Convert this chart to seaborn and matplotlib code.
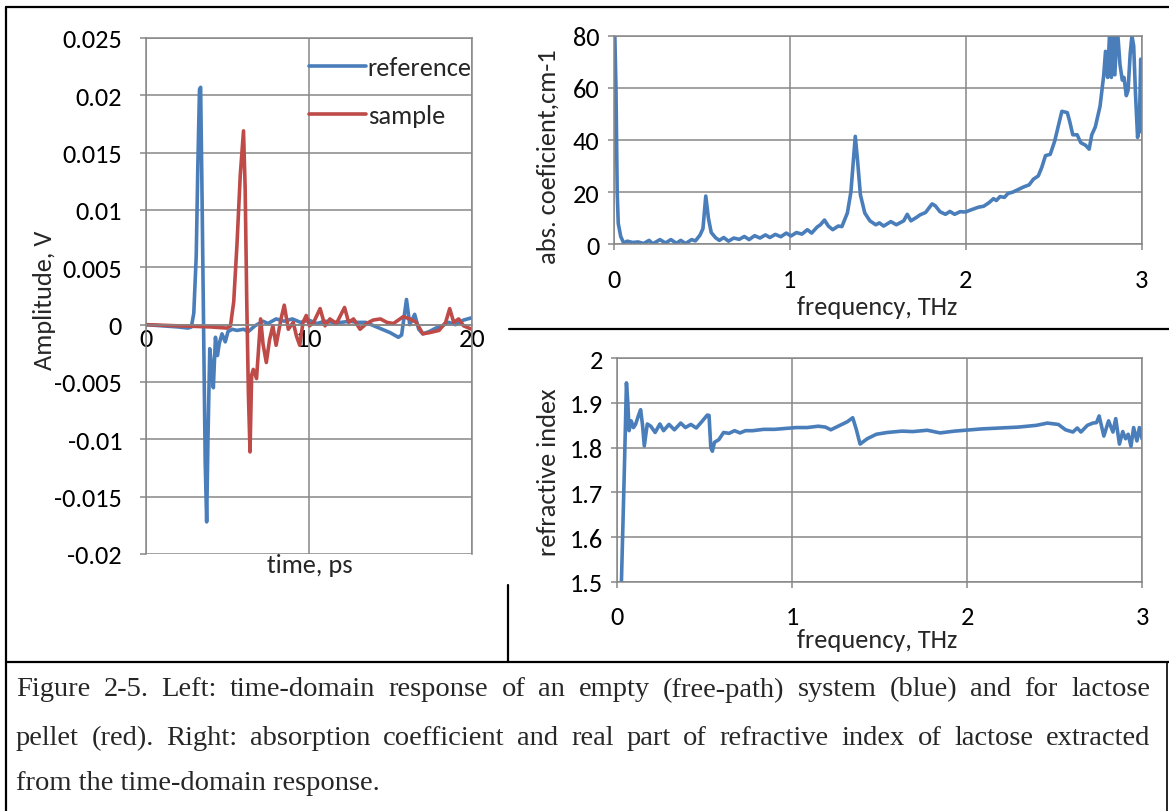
import matplotlib
matplotlib.use("Agg")
import matplotlib.pyplot as plt
import seaborn as sns
import pandas as pd
from matplotlib import font_manager
from matplotlib.lines import Line2D

# ---------------- data ----------------
# Left panel: time-domain response (time in ps, amplitude in V)
ref_time = [0, 1, 2, 2.6, 2.8, 2.95, 3.1, 3.2, 3.3, 3.37, 3.45, 3.55, 3.65, 3.74, 3.82,
            3.93, 4.03, 4.15, 4.28, 4.40, 4.52, 4.68, 4.88, 5.05, 5.3, 5.6, 6.0, 6.3, 6.7,
            7.2, 7.5, 8.0, 8.5, 9.0, 9.5, 10.0, 10.5, 11.0, 11.5, 12.0, 12.5, 13.0, 13.5,
            14.0, 14.5, 15.0, 15.5, 15.7, 16.0, 16.2, 16.5, 16.75, 17.0, 17.4, 17.8, 18.2,
            18.6, 19.0, 19.5, 20.0]
ref_amp = [0.0, -0.0001, -0.0002, -0.0003, -0.0002, 0.001, 0.006, 0.014, 0.0205, 0.0207,
           0.012, 0.0, -0.012, -0.0172, -0.010, -0.0021, -0.0035, -0.0055, -0.0011, -0.0027,
           -0.0016, -0.0008, -0.0015, -0.0006, -0.0004, -0.0005, -0.0004, -0.0006, -0.0001,
           0.0003, 0.0001, 0.0005, 0.0003, 0.0005, 0.0002, 0.0004, 0.0001, 0.0003, 0.0002,
           0.0002, 0.0003, 0.0002, 0.0002, -0.0001, -0.0004, -0.0007, -0.0011, -0.0009,
           0.0022, 0.0000, 0.0009, -0.0004, -0.0008, -0.0006, -0.0003, -0.0001, 0.0002,
           0.0, 0.0004, 0.0006]

smp_time = [0, 2, 4, 5.0, 5.2, 5.4, 5.6, 5.8, 6.0, 6.1, 6.2, 6.3, 6.4, 6.5, 6.6, 6.8, 7.05,
            7.2, 7.4, 7.6, 7.8, 8.0, 8.3, 8.5, 8.75, 9.05, 9.25, 9.45, 9.65, 9.85, 10.05,
            10.3, 10.7, 11.0, 11.3, 11.7, 12.2, 12.45, 12.75, 13.15, 13.55, 13.95, 14.4,
            14.8, 15.2, 15.8, 16.2, 16.6, 17.0, 17.4, 18.0, 18.4, 18.65, 18.9, 19.2, 19.5, 20.0]
smp_amp = [0.0, -0.0001, -0.0002, -0.0003, -0.0001, 0.002, 0.007, 0.013, 0.0169, 0.012,
           0.002, -0.006, -0.0111, -0.0044, -0.0039, -0.0047, 0.0005, -0.0017, -0.0033,
           -0.0013, -0.0001, -0.0018, 0.0005, 0.0017, -0.0004, 0.0002, -0.0010, -0.0018,
           0.0002, 0.0008, -0.0001, 0.0002, 0.0014, -0.0001, 0.0005, 0.0001, 0.0015, 0.0002,
           0.0005, -0.0004, 0.0001, 0.0004, 0.0005, 0.0002, 0.0001, 0.0007, 0.0005, 0.0002,
           -0.0008, -0.0007, -0.0005, 0.0002, 0.0014, 0.0002, 0.0005, -0.0001, -0.0004]

# Top right: absorption coefficient (THz, cm-1)
abs_freq = [0.006, 0.014, 0.021, 0.027, 0.041, 0.058, 0.078, 0.109, 0.14, 0.171, 0.202, 0.223,
            0.264, 0.295, 0.326, 0.357, 0.382, 0.409, 0.444, 0.465, 0.491, 0.508, 0.524, 0.539,
            0.555, 0.58, 0.601, 0.626, 0.653, 0.683, 0.714, 0.743, 0.77, 0.801, 0.832, 0.863,
            0.888, 0.919, 0.95, 0.981, 1.008, 1.039, 1.07, 1.101, 1.125, 1.156, 1.175, 1.198,
            1.22, 1.245, 1.276, 1.297, 1.328, 1.348, 1.363, 1.373, 1.386, 1.402, 1.427, 1.456,
            1.489, 1.51, 1.534, 1.575, 1.606, 1.648, 1.668, 1.689, 1.72, 1.741, 1.772, 1.792,
            1.809, 1.827, 1.854, 1.885, 1.91, 1.937, 1.968, 1.999, 2.03, 2.071, 2.102, 2.133,
            2.158, 2.174, 2.195, 2.22, 2.24, 2.267, 2.298, 2.329, 2.36, 2.385, 2.412, 2.432,
            2.453, 2.48, 2.505, 2.53, 2.546, 2.577, 2.591, 2.608, 2.633, 2.653, 2.68, 2.701,
            2.716, 2.736, 2.763, 2.784, 2.794, 2.806, 2.819, 2.827, 2.839, 2.847, 2.86, 2.876,
            2.889, 2.899, 2.912, 2.922, 2.934, 2.944, 2.954, 2.964, 2.976, 2.986, 2.994, 3.0]
abs_coef = [85, 60, 20, 8, 3, 0.5, 1.2, 0.7, 0.9, 0.3, 1.5, 0.2, 1.8, 0.5, 1.8, 0.4, 1.5, 0.3,
            1.8, 1.3, 3.5, 6, 18.5, 10, 4.5, 2.5, 1.5, 2.6, 1.2, 2.4, 1.9, 3.0, 1.8, 3.3, 2.4,
            3.6, 2.6, 3.8, 2.9, 4.3, 3.2, 4.5, 3.9, 5.6, 4.3, 6.6, 7.5, 9.3, 7.0, 5.6, 7.0, 6.8,
            12, 20, 33, 41.4, 32, 19, 12, 9, 7.5, 8.2, 7, 8.7, 7.5, 9, 11.5, 9, 10.3, 11.3, 12.2,
            14, 15.5, 14.8, 12.5, 11.5, 12.6, 11.5, 12.5, 12.4, 13.2, 14.2, 14.6, 16, 17.5, 16.8,
            18.3, 18, 19.5, 20, 21, 22, 22.8, 25, 26.2, 29.5, 34, 34.5, 39.5, 46.5, 51, 50.5, 47,
            42, 42, 39, 38, 36.5, 42, 45, 53, 65, 74, 64, 84, 64, 84, 65, 84, 69, 63, 64, 57, 59,
            73, 80, 76, 58, 41, 45, 71, 43]

# Bottom right: refractive index (THz, n)
ri_freq = [0.024, 0.042, 0.054, 0.062, 0.069, 0.081, 0.094, 0.106, 0.121, 0.135, 0.146, 0.156,
           0.173, 0.193, 0.218, 0.245, 0.266, 0.297, 0.328, 0.364, 0.391, 0.422, 0.453, 0.484,
           0.516, 0.526, 0.536, 0.545, 0.557, 0.582, 0.609, 0.64, 0.672, 0.703, 0.734, 0.775,
           0.838, 0.9, 0.963, 1.025, 1.087, 1.15, 1.191, 1.222, 1.274, 1.316, 1.347, 1.368,
           1.389, 1.43, 1.482, 1.545, 1.628, 1.69, 1.773, 1.846, 1.929, 2.085, 2.189, 2.293,
           2.397, 2.459, 2.522, 2.563, 2.605, 2.63, 2.651, 2.688, 2.719, 2.74, 2.755, 2.782,
           2.809, 2.834, 2.85, 2.871, 2.89, 2.906, 2.921, 2.937, 2.952, 2.971, 2.985, 3.0]
ri_n = [1.48, 1.75, 1.945, 1.90, 1.838, 1.86, 1.845, 1.852, 1.87, 1.885, 1.85, 1.804, 1.853,
        1.848, 1.834, 1.853, 1.838, 1.852, 1.84, 1.855, 1.845, 1.852, 1.844, 1.858, 1.873,
        1.872, 1.80, 1.792, 1.812, 1.818, 1.834, 1.832, 1.838, 1.833, 1.838, 1.838, 1.841,
        1.841, 1.843, 1.845, 1.845, 1.848, 1.846, 1.84, 1.85, 1.858, 1.867, 1.84, 1.808, 1.82,
        1.83, 1.834, 1.837, 1.836, 1.839, 1.833, 1.837, 1.842, 1.844, 1.846, 1.85, 1.855,
        1.852, 1.84, 1.835, 1.844, 1.835, 1.85, 1.855, 1.856, 1.871, 1.826, 1.86, 1.835, 1.865,
        1.808, 1.836, 1.82, 1.83, 1.803, 1.845, 1.815, 1.845, 1.82]

time_ticks = [0, 10, 20]
amp_ticks = [-0.02, -0.015, -0.01, -0.005, 0, 0.005, 0.01, 0.015, 0.02, 0.025]
amp_labels = ["-0.02", "-0.015", "-0.01", "-0.005", "0", "0.005", "0.01", "0.015", "0.02", "0.025"]
freq_ticks = [0, 1, 2, 3]
abs_ticks = [0, 20, 40, 60, 80]
ri_ticks = [1.5, 1.6, 1.7, 1.8, 1.9, 2.0]
ri_labels = ["1.5", "1.6", "1.7", "1.8", "1.9", "2"]

caption_lines = [
    "Figure 2-5. Left: time-domain response of an empty (free-path) system (blue) and for lactose",
    "pellet (red). Right: absorption coefficient and real part of refractive index of lactose extracted",
    "from the time-domain response.",
]

# ---------------- style ----------------
sns.set_theme(style="white")
names = {f.name for f in font_manager.fontManager.ttflist}
chart_font = "Carlito" if "Carlito" in names else "Lato"
plt.rcParams['font.family'] = [chart_font, 'DejaVu Sans']

BLUE = "#4A7EBB"
RED = "#BE4B48"
GRID = "#878787"
FS = 19
LW = 2.6

W, H = 1169, 812
fig = plt.figure(figsize=(W / 100, H / 100), dpi=100)
fig.patch.set_facecolor("white")


def rect(x0, y0, x1, y1):
    return [x0 / W, 1 - y1 / H, (x1 - x0) / W, (y1 - y0) / H]


def fx(x):
    return x / W


def fy(y):
    return 1 - y / H


def style_axes(ax):
    ax.set_facecolor("white")
    ax.grid(True, color=GRID, linewidth=1.1)
    for s in ax.spines.values():
        s.set_color(GRID)
        s.set_linewidth(1.1)
    ax.set_xlabel("")
    ax.set_ylabel("")


# ---------- left: time domain ----------
ax1 = fig.add_axes(rect(145.7, 39, 471.7, 555))
df_ref = pd.DataFrame({"t": ref_time, "v": ref_amp})
df_smp = pd.DataFrame({"t": smp_time, "v": smp_amp})
sns.lineplot(data=df_ref, x="t", y="v", ax=ax1, color=BLUE, linewidth=LW, label="reference",
             estimator=None, sort=False)
sns.lineplot(data=df_smp, x="t", y="v", ax=ax1, color=RED, linewidth=LW, label="sample",
             estimator=None, sort=False)
style_axes(ax1)
ax1.set_xlim(0, 20)
ax1.set_ylim(-0.02, 0.025)
ax1.set_xticks(time_ticks)
ax1.set_xticklabels([str(t) for t in time_ticks])
ax1.set_yticks(amp_ticks)
ax1.set_yticklabels(amp_labels)
ax1.spines['bottom'].set_position(('data', 0))
ax1.tick_params(axis='x', length=0, pad=1.5, labelsize=FS, colors='black')
ax1.tick_params(axis='y', length=4, width=1.1, color=GRID, pad=13, labelsize=FS, labelcolor='black',
                left=True)
ax1.legend(loc='upper left', bbox_to_anchor=(fx(309), fy(57)), bbox_transform=fig.transFigure,
           frameon=False, fontsize=FS, borderpad=0, borderaxespad=0, handlelength=2.15,
           handletextpad=0.08, labelspacing=0.95)
fig.text(fx(45), fy(300), "Amplitude, V", rotation=90, ha='center', va='center', fontsize=FS)
fig.text(fx(310), fy(566), "time, ps", ha='center', va='center', fontsize=FS)

# ---------- top right: absorption ----------
ax2 = fig.add_axes(rect(613.5, 36.7, 1141.8, 245.3))
df_abs = pd.DataFrame({"f": abs_freq, "a": abs_coef})
sns.lineplot(data=df_abs, x="f", y="a", ax=ax2, color=BLUE, linewidth=LW, estimator=None, sort=False)
style_axes(ax2)
ax2.set_xlim(0, 3)
ax2.set_ylim(0, 80)
ax2.set_xticks(freq_ticks)
ax2.set_xticklabels([str(t) for t in freq_ticks])
ax2.set_yticks(abs_ticks)
ax2.set_yticklabels([str(t) for t in abs_ticks])
ax2.tick_params(axis='both', length=4, width=1.1, color=GRID, labelsize=FS, labelcolor='black',
                bottom=True, left=True)
ax2.tick_params(axis='x', pad=13)
ax2.tick_params(axis='y', pad=6)
fig.text(fx(548), fy(157), "abs. coeficient,cm-1", rotation=90, ha='center', va='center', fontsize=FS)
fig.text(fx(877), fy(308), "frequency, THz", ha='center', va='center', fontsize=FS)

# ---------- bottom right: refractive index ----------
ax3 = fig.add_axes(rect(617, 359.3, 1142, 582.7))
df_ri = pd.DataFrame({"f": ri_freq, "n": ri_n})
sns.lineplot(data=df_ri, x="f", y="n", ax=ax3, color=BLUE, linewidth=LW, estimator=None, sort=False)
style_axes(ax3)
ax3.set_xlim(0, 3)
ax3.set_ylim(1.5, 2.0)
ax3.set_xticks(freq_ticks)
ax3.set_xticklabels([str(t) for t in freq_ticks])
ax3.set_yticks(ri_ticks)
ax3.set_yticklabels(ri_labels)
ax3.tick_params(axis='both', length=4, width=1.1, color=GRID, labelsize=FS, labelcolor='black',
                bottom=True, left=True)
ax3.tick_params(axis='x', pad=13)
ax3.tick_params(axis='y', pad=6)
fig.text(fx(548), fy(472), "refractive index", rotation=90, ha='center', va='center', fontsize=FS)
fig.text(fx(877), fy(640), "frequency, THz", ha='center', va='center', fontsize=FS)

# ---------- table borders ----------
def hline(x0, x1, y, lw=1.6):
    fig.add_artist(Line2D([fx(x0), fx(x1)], [fy(y), fy(y)], color='black', linewidth=lw,
                          transform=fig.transFigure))


def vline(x, y0, y1, lw=1.6):
    fig.add_artist(Line2D([fx(x), fx(x)], [fy(y0), fy(y1)], color='black', linewidth=lw,
                          transform=fig.transFigure))


hline(6, 1169, 8)
vline(6, 8, 812)
vline(508, 586, 663)
hline(509, 1169, 330)
hline(6, 1169, 663)
vline(1167, 663, 812, lw=1.2)

# ---------- caption (justified) ----------
CAP_FS = 20.5
cap_family = ['Liberation Serif', 'DejaVu Serif']
renderer = fig.canvas.get_renderer()
cap_y = [690, 739, 784]
x_left, x_right = 16, 1150
for i, line in enumerate(caption_lines):
    if i == len(caption_lines) - 1:
        fig.text(fx(x_left), fy(cap_y[i]), line, fontsize=CAP_FS, family=cap_family,
                 ha='left', va='center')
        continue
    words = line.split()
    texts = [fig.text(0, 0, w, fontsize=CAP_FS, family=cap_family, ha='left', va='center')
             for w in words]
    widths = [t.get_window_extent(renderer).width for t in texts]
    gap = (x_right - x_left - sum(widths)) / (len(words) - 1)
    x = x_left
    for t, w in zip(texts, widths):
        t.set_position((fx(x), fy(cap_y[i])))
        x += w + gap

fig.savefig("out.png", dpi=100, facecolor="white")
